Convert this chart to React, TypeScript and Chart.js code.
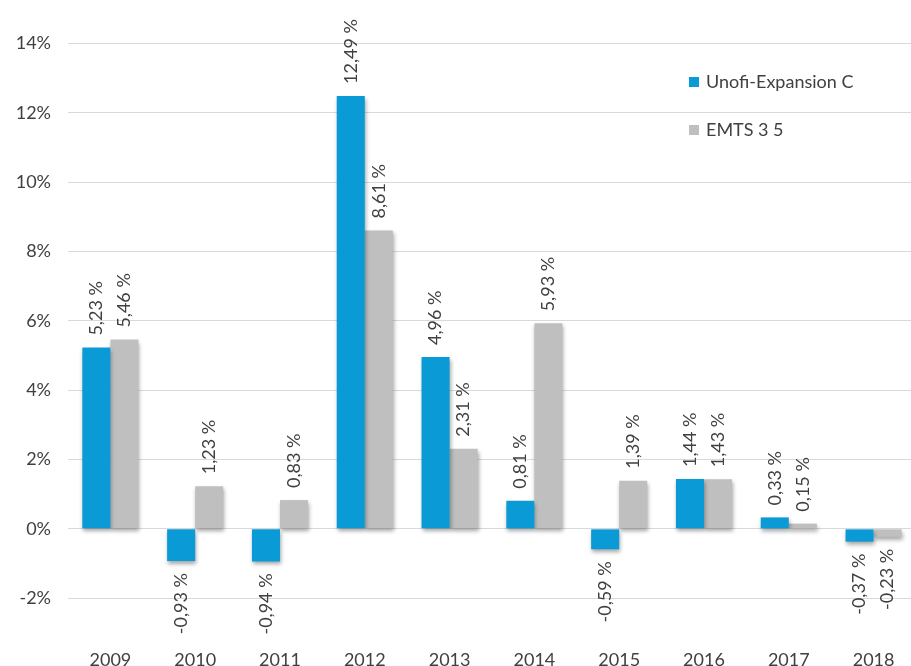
import React, { useEffect, useRef } from "react";
import { Chart, registerables } from "chart.js";

Chart.register(...registerables);

const categories = ["2009", "2010", "2011", "2012", "2013", "2014", "2015", "2016", "2017", "2018"];
const unofiValues = [5.23, -0.93, -0.94, 12.49, 4.96, 0.81, -0.59, 1.44, 0.33, -0.37];
const emtsValues = [5.46, 1.23, 0.83, 8.61, 2.31, 5.93, 1.39, 1.43, 0.15, -0.23];
const seriesNames = ["Unofi-Expansion C", "EMTS 3 5"];
const yTicks = [-2, 0, 2, 4, 6, 8, 10, 12, 14];

const BLUE = "#0a9ad6";
const GRAY = "#bfbfbf";
const TEXT = "#404040";
const FONT = "Lato, 'Open Sans', sans-serif";

const fmt = (v: number) => v.toFixed(2).replace(".", ",") + " %";

const barPlugin = {
  id: "barExtras",
  beforeDatasetsDraw(chart: any) {
    const ctx = chart.ctx;
    ctx.save();
    ctx.shadowColor = "rgba(0,0,0,0.35)";
    ctx.shadowBlur = 4;
    ctx.shadowOffsetX = 1;
    ctx.shadowOffsetY = 3;
  },
  afterDatasetsDraw(chart: any) {
    const ctx = chart.ctx;
    ctx.restore();
    ctx.save();
    ctx.font = `18px ${FONT}`;
    ctx.fillStyle = TEXT;
    ctx.textBaseline = "middle";
    chart.data.datasets.forEach((ds: any, di: number) => {
      const meta = chart.getDatasetMeta(di);
      meta.data.forEach((el: any, i: number) => {
        const v = ds.data[i];
        ctx.save();
        if (v >= 0) {
          ctx.translate(el.x, el.y - 12);
          ctx.rotate(-Math.PI / 2);
          ctx.textAlign = "left";
        } else {
          ctx.translate(el.x, el.y + 12);
          ctx.rotate(-Math.PI / 2);
          ctx.textAlign = "right";
        }
        ctx.fillText(fmt(v), 0, 0);
        ctx.restore();
      });
    });
    ctx.restore();
  },
  afterDraw(chart: any) {
    const ctx = chart.ctx;
    ctx.save();
    ctx.font = `18px ${FONT}`;
    ctx.textBaseline = "middle";
    ctx.textAlign = "left";
    const items = [
      { label: seriesNames[0], color: BLUE, y: 82 },
      { label: seriesNames[1], color: GRAY, y: 130 },
    ];
    items.forEach((it) => {
      ctx.fillStyle = it.color;
      ctx.fillRect(689, it.y - 5, 10, 10);
      ctx.fillStyle = TEXT;
      ctx.fillText(it.label, 706, it.y);
    });
    ctx.restore();
  },
};

export default function App() {
  const ref = useRef<HTMLCanvasElement | null>(null);
  useEffect(() => {
    if (!ref.current) return;
    const chart = new Chart(ref.current, {
      type: "bar",
      data: {
        labels: categories,
        datasets: [
          { label: seriesNames[0], data: unofiValues, backgroundColor: BLUE },
          { label: seriesNames[1], data: emtsValues, backgroundColor: GRAY },
        ],
      },
      options: {
        animation: false,
        responsive: false,
        maintainAspectRatio: false,
        layout: { padding: { top: 9, left: 0, right: 0, bottom: 0 } },
        datasets: { bar: { categoryPercentage: 0.662, barPercentage: 1.0 } },
        plugins: {
          legend: { display: false },
          tooltip: { enabled: false },
        },
        scales: {
          x: {
            grid: { display: false, drawTicks: false },
            border: { display: false },
            ticks: { color: TEXT, font: { family: FONT, size: 18 }, padding: 37, maxRotation: 0 },
            afterFit: (s: any) => {
              s.height = 54;
              s.paddingLeft = 0;
              s.paddingRight = 0;
            },
          },
          y: {
            min: -2.4,
            max: 15,
            afterBuildTicks: (s: any) => {
              s.ticks = yTicks.map((v) => ({ value: v }));
            },
            grid: { color: "#d9d9d9", lineWidth: 1, drawTicks: false },
            border: { display: false },
            ticks: {
              color: TEXT,
              font: { family: FONT, size: 18 },
              padding: 17,
              callback: (v: any) => `${v}%`,
            },
            afterFit: (s: any) => {
              s.width = 68;
              s.paddingTop = 0;
              s.paddingBottom = 0;
            },
          },
        },
      },
      plugins: [barPlugin],
    });
    return () => chart.destroy();
  }, []);
  return (
    <div style={{ position: "fixed", left: 0, top: 0, width: 916, height: 666, background: "#fff" }}>
      <canvas ref={ref} width={916} height={666} style={{ display: "block" }} />
    </div>
  );
}
